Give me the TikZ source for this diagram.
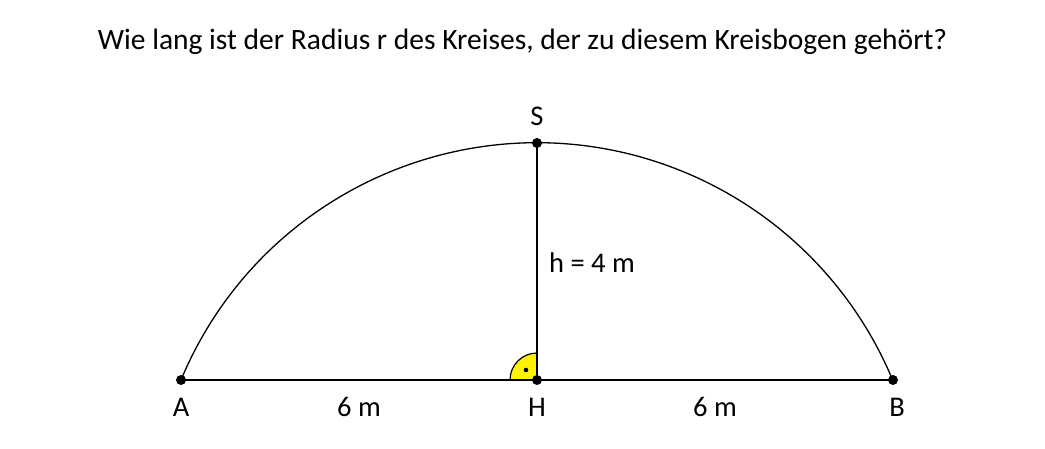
\documentclass[tikz,border=0pt]{standalone}
\usepackage{fontspec}
\setmainfont{Carlito}
\definecolor{markyellow}{RGB}{255,242,0}
\begin{document}
\begin{tikzpicture}[x=1pt,y=1pt,
  pt/.style={circle,fill=black,inner sep=0pt,minimum size=10pt},
  lbl/.style={inner sep=0pt,font=\fontsize{28.5}{32}\selectfont},
  seg/.style={line width=2pt}]
\useasboundingbox (0,0) rectangle (1045,448);
\node[inner sep=0pt,font=\fontsize{29.5}{34}\selectfont] (title) at (522.5,406) {Wie lang ist der Radius r des Kreises, der zu diesem Kreisbogen gehört?};
\coordinate (M) at (537,-80.3);
\coordinate (Apos) at (181,68);
\coordinate (Hpos) at (537,68);
\coordinate (Bpos) at (893,68);
\coordinate (Spos) at (537,305);
% right angle mark
\filldraw[fill=markyellow,draw=black,line width=1.2pt] (Hpos) -- ++(-27,0) arc[start angle=180,end angle=90,radius=27] -- cycle;
\fill (526,78) circle (2.3);
\draw[line width=1.3pt] (Apos) arc[start angle=157.38,end angle=22.62,radius=385.5];
\draw[seg] (Apos) -- (Bpos);
\draw[seg] (Hpos) -- (Spos);
\node[pt] (A) at (Apos) {};
\node[pt] (H) at (Hpos) {};
\node[pt] (B) at (Bpos) {};
\node[pt] (S) at (Spos) {};
\node[lbl] (lA) at (181,41) {A};
\node[lbl] (lH) at (537,41) {H};
\node[lbl] (lB) at (897,41) {B};
\node[lbl] (lS) at (537,332) {S};
\node[lbl] (l1) at (359,41) {6 m};
\node[lbl] (l2) at (715,41) {6 m};
\node[lbl,anchor=west] (lh) at (549,185) {h = 4 m};
\end{tikzpicture}
\end{document}
